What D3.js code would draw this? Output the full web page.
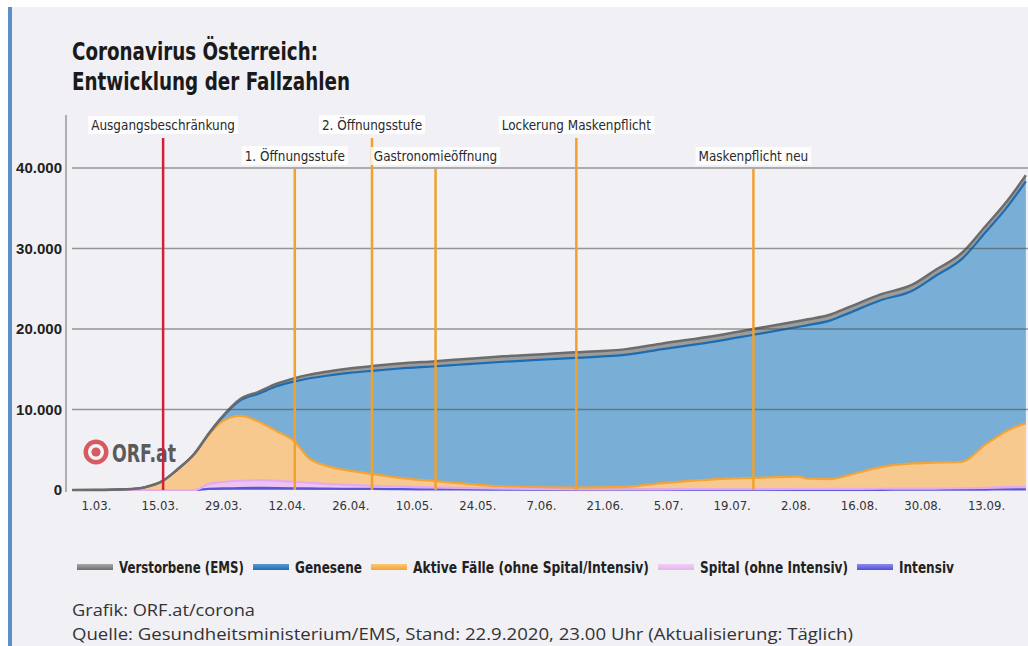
<!DOCTYPE html>
<html>
<head>
<meta charset="utf-8">
<script src="https://cdn.jsdelivr.net/npm/d3@7"></script>
<style>
  body { margin: 0; background: #fff; }
  svg { display: block; }
</style>
</head>
<body>
<svg id="chart" width="1028" height="646"></svg>
<script>
// data (cases, Austria 2020)
const dates = ["25.02.2020","01.03.2020","08.03.2020","12.03.2020","16.03.2020","19.03.2020","23.03.2020",
  "26.03.2020","29.03.2020","02.04.2020","06.04.2020","10.04.2020","14.04.2020","17.04.2020","21.04.2020",
  "26.04.2020","01.05.2020","07.05.2020","15.05.2020","20.05.2020","30.05.2020","15.06.2020","26.06.2020",
  "04.07.2020","16.07.2020","24.07.2020","03.08.2020","05.08.2020","10.08.2020","14.08.2020","21.08.2020",
  "28.08.2020","02.09.2020","08.09.2020","13.09.2020","18.09.2020","22.09.2020"];

const intensiv = [0,0,0,0,0,0,0,150,190,250,265,250,220,200,170,150,130,100,80,60,40,15,10,10,15,15,20,20,20,20,25,30,30,40,55,70,80];
const spital = [0,0,0,0,0,0,0,600,800,900,950,900,800,700,600,480,400,320,250,200,120,60,50,70,100,100,110,110,110,120,130,140,150,180,220,280,320];
const aktive = [0,10,100,340,1150,2450,4500,6050,7510,8050,7285,6150,4980,3100,2230,1770,1470,1080,770,590,290,225,340,770,1235,1385,1520,1270,1220,1710,2695,3130,3220,3280,5325,7050,7900];
const genesene = [0,0,0,6,10,30,80,150,500,1930,3460,5580,7500,9850,11190,12150,12810,13590,14270,14710,15480,16120,16410,16645,17140,17785,18630,19080,19725,20120,20715,21460,23155,25250,26345,27835,30030];
const verstorbene = [0,0,0,0,4,8,20,50,100,170,240,320,400,450,510,550,590,610,630,640,670,680,690,705,710,715,720,720,725,730,735,740,745,750,755,765,770];

const tickDates = ["1.03.","15.03.","29.03.","12.04.","26.04.","10.05.","24.05.","7.06.","21.06.","5.07.","19.07.","2.08.","16.08.","30.08.","13.09."];
const yTicks = [0, 10000, 20000, 30000, 40000];

const eventNames = ["Ausgangsbeschränkung","1. Öffnungsstufe","2. Öffnungsstufe","Gastronomieöffnung","Lockerung Maskenpflicht","Maskenpflicht neu"];
const eventDates = ["16.03.2020","14.04.2020","01.05.2020","15.05.2020","15.06.2020","24.07.2020"];
const eventRow = [0,1,0,1,0,1];

const seriesKeys = ["intensiv","spital","aktive","genesene","verstorbene"];
const seriesNames = ["Verstorbene (EMS)","Genesene","Aktive Fälle (ohne Spital/Intensiv)","Spital (ohne Intensiv)","Intensiv"];

const width = 1028, height = 646;
const sans = "'DejaVu Sans', sans-serif";

// squeeze text horizontally (the original uses a condensed face)
function squeeze(sel, f) {
  sel.each(function () {
    const w = this.getComputedTextLength();
    d3.select(this).attr("textLength", w * f).attr("lengthAdjust", "spacingAndGlyphs");
  });
}
function fitTo(sel, w) {
  sel.attr("textLength", w).attr("lengthAdjust", "spacingAndGlyphs");
}

const parse = d3.utcParse("%d.%m.%Y");
const locale = d3.formatLocale({decimal: ",", thousands: ".", grouping: [3], currency: ["", " €"]});
const fmt = locale.format(",d");

const x = d3.scaleUtc()
  .domain([parse("01.03.2020"), parse("13.09.2020")])
  .range([95, 985]);
const y = d3.scaleLinear().domain([0, 40000]).range([490, 168]);

const fills = {intensiv: "#7c7ce6", spital: "#eec2f4", aktive: "#f8c98e", genesene: "#79afd6", verstorbene: "#9c9c9c"};
const strokes = {intensiv: "#5858d6", spital: "#e4aaf0", aktive: "#f4a436", genesene: "#1c6cb2", verstorbene: "#6c6c6c"};

const svg = d3.select("#chart");

// background
svg.append("rect").attr("width", width).attr("height", height).attr("fill", "#fff");
svg.append("rect").attr("x", 8).attr("y", 7).attr("width", width - 8).attr("height", height - 7).attr("fill", "#f0f0f5");
svg.append("rect").attr("x", 8).attr("y", 7).attr("width", 4).attr("height", height - 7).attr("fill", "#5c90c8");

// title
const title = svg.append("g").attr("font-family", sans).attr("font-weight", "bold")
  .attr("font-size", 24).attr("fill", "#1a1a1a");
fitTo(title.append("text").attr("x", 72).attr("y", 60).text("Coronavirus Österreich:"), 246);
fitTo(title.append("text").attr("x", 72).attr("y", 90).text("Entwicklung der Fallzahlen"), 278);

// stacked data
const rows = dates.map((d, i) => ({
  date: parse(d),
  intensiv: intensiv[i], spital: spital[i], aktive: aktive[i],
  genesene: genesene[i], verstorbene: verstorbene[i]
}));
const layers = d3.stack().keys(seriesKeys)(rows);

const area = d3.area()
  .x(d => x(d.data.date))
  .y0(d => y(d[0]))
  .y1(d => y(d[1]))
  .curve(d3.curveMonotoneX);
const topLine = d3.line()
  .x(d => x(d.data.date))
  .y(d => y(d[1]))
  .curve(d3.curveMonotoneX);

svg.append("g").selectAll("path").data(layers).join("path")
  .attr("d", area)
  .attr("fill", d => fills[d.key]);

svg.append("g").selectAll("path").data(layers).join("path")
  .attr("d", topLine)
  .attr("fill", "none")
  .attr("stroke", d => strokes[d.key])
  .attr("stroke-width", d => d.key === "verstorbene" ? 2.5 : 2.2)
  .attr("stroke-linejoin", "round");

// grid lines (drawn over the areas)
svg.append("g").selectAll("line").data(yTicks.filter(v => v > 0)).join("line")
  .attr("x1", 72).attr("x2", width)
  .attr("y1", d => y(d)).attr("y2", d => y(d))
  .attr("stroke", "#4a4a4a").attr("stroke-opacity", 0.55).attr("stroke-width", 1.5);

// y axis
const yAxis = svg.append("g")
  .attr("transform", "translate(66,0)")
  .call(d3.axisLeft(y).tickValues(yTicks).tickFormat(fmt).tickSize(0).tickPadding(4));
yAxis.select(".domain").remove();
yAxis.selectAll("text")
  .attr("font-family", "'Liberation Sans', sans-serif")
  .attr("font-weight", "bold").attr("font-size", 15).attr("fill", "#222");
svg.append("line").attr("x1", 66).attr("x2", 66).attr("y1", 115).attr("y2", 492)
  .attr("stroke", "#999").attr("stroke-width", 1.5);

// x axis
const xAxis = svg.append("g")
  .attr("transform", "translate(1,497)")
  .call(d3.axisBottom(x)
    .tickValues(tickDates.map(t => parse(t + "2020")))
    .tickFormat((d, i) => tickDates[i])
    .tickSize(0).tickPadding(4));
xAxis.select(".domain").remove();
xAxis.selectAll("text")
  .attr("font-family", sans).attr("font-size", 13).attr("fill", "#333");
squeeze(xAxis.selectAll("text"), 0.9);

// ORF.at logo
const logo = svg.append("g").attr("transform", "translate(96,452)");
logo.append("circle").attr("r", 12.5).attr("fill", "#d65a62");
logo.append("circle").attr("r", 8).attr("fill", "#f4f4f7");
logo.append("circle").attr("r", 4.6).attr("fill", "#d65a62");
fitTo(logo.append("text").attr("x", 16).attr("y", 10)
  .attr("font-family", sans).attr("font-weight", "bold").attr("font-size", 25)
  .attr("fill", "#5a5a5a").text("ORF.at"), 64);

// event lines with labels
const events = svg.append("g");
eventNames.forEach((name, i) => {
  const ex = x(parse(eventDates[i]));
  const labelY = eventRow[i] === 0 ? 130 : 161;
  events.append("line")
    .attr("x1", ex).attr("x2", ex)
    .attr("y1", labelY + 8).attr("y2", 490)
    .attr("stroke", i === 0 ? "#d3203a" : "#f0a12e")
    .attr("stroke-width", 2.5);
  const g = events.append("g");
  const t = g.append("text")
    .attr("x", ex).attr("y", labelY)
    .attr("text-anchor", "middle")
    .attr("font-family", sans).attr("font-size", 14).attr("fill", "#2a2a2a")
    .text(name);
  squeeze(t, 0.86);
  const bb = t.node().getBBox();
  g.insert("rect", "text")
    .attr("x", bb.x - 3).attr("y", bb.y - 1)
    .attr("width", bb.width + 6).attr("height", bb.height + 2)
    .attr("fill", "#fff").attr("fill-opacity", 0.85);
});

// legend (text condensed with a scale so boxes stay honest)
const legendColors = [["#a8a8a8", "#6e6e6e"], ["#5b9ad4", "#1f6db3"], ["#fbc878", "#f4a236"], ["#f0d0f6", "#e6b4ee"], ["#8c8cec", "#5050d8"]];
const legendWidths = [125, 67, 236, 148, 55];
const legend = svg.append("g").attr("font-family", sans).attr("font-weight", "bold")
  .attr("font-size", 16).attr("fill", "#222");
const defs = svg.append("defs");
let lx = 77;
seriesNames.forEach((name, i) => {
  const gid = "lg" + i;
  const grad = defs.append("linearGradient").attr("id", gid).attr("x1", 0).attr("x2", 0).attr("y1", 0).attr("y2", 1);
  grad.append("stop").attr("offset", 0).attr("stop-color", legendColors[i][0]);
  grad.append("stop").attr("offset", 1).attr("stop-color", legendColors[i][1]);
  legend.append("rect").attr("x", lx).attr("y", 564).attr("width", 36).attr("height", 6)
    .attr("fill", `url(#${gid})`);
  const tg = legend.append("g");
  const t = tg.append("text").attr("x", 0).attr("y", 0).text(name);
  const f = legendWidths[i] / t.node().getComputedTextLength();
  tg.attr("transform", `translate(${lx + 42},573) scale(${f},1)`);
  lx += 42 + legendWidths[i] + 9;
});

// footer
const foot = svg.append("g").attr("font-family", "'Open Sans', sans-serif")
  .attr("font-size", 17).attr("fill", "#333");
fitTo(foot.append("text").attr("x", 72).attr("y", 616).text("Grafik: ORF.at/corona"), 183);
fitTo(foot.append("text").attr("x", 72).attr("y", 640)
  .text("Quelle: Gesundheitsministerium/EMS, Stand: 22.9.2020, 23.00 Uhr (Aktualisierung: Täglich)"), 781);
</script>
</body>
</html>
